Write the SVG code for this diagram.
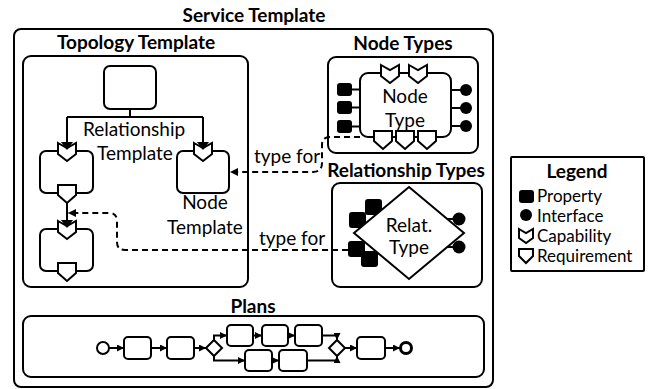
<svg xmlns="http://www.w3.org/2000/svg" xmlns:xlink="http://www.w3.org/1999/xlink" width="648" height="389" viewBox="0 0 648 389">
<style>
.box{fill:#fff;stroke:#000;stroke-width:2}
.ln{fill:none;stroke:#000;stroke-width:2}
.dash{fill:none;stroke:#000;stroke-width:2;stroke-dasharray:6 4}
.blk{fill:#000;stroke:none}
.sh{fill:#fff;stroke:#000;stroke-width:2;stroke-linejoin:miter}
.t{font-family:Lato,"Open Sans",sans-serif;font-size:19px;fill:#000;text-anchor:middle}
.tb{font-family:Lato,"Open Sans",sans-serif;font-size:19px;font-weight:bold;fill:#000;text-anchor:middle}
.tl{font-family:Lato,"Open Sans",sans-serif;font-size:17px;fill:#000;text-anchor:start}
</style>
<defs>
<polygon id="cap" class="sh" points="-9,0 0,5 9,0 9,11 0,18 -9,11"/>
<polygon id="req" class="sh" points="-9,0 9,0 9,10 0,18 -9,10"/>
<marker id="ah" viewBox="0 0 8 8" refX="8" refY="4" markerWidth="7" markerHeight="7" markerUnits="userSpaceOnUse" orient="auto">
<path d="M0,0 L8,4 L0,8 Z" fill="#000"/>
</marker>
<marker id="ad" viewBox="0 0 8 8" refX="8" refY="4" markerWidth="8" markerHeight="8" markerUnits="userSpaceOnUse" orient="auto">
<path d="M0,0 L8,4 L0,8 Z" fill="#000"/>
</marker>
</defs>

<g id="service-template">
<rect class="box" x="14" y="29" width="479" height="358" rx="7"/>
<text class="tb" x="254" y="22">Service Template</text>
</g>

<g id="topology-template">
<rect class="box" x="23" y="56" width="225" height="231" rx="8"/>
<text class="tb" x="136" y="49">Topology Template</text>
</g>

<g id="node-top">
<rect class="box" x="104" y="66" width="52" height="43" rx="6"/>
</g>

<g id="node-1">
<rect class="box" x="40" y="151" width="53" height="42" rx="6"/>
<use href="#cap" x="67" y="143"/>
<use href="#req" x="67" y="185"/>
</g>

<g id="node-2">
<rect class="box" x="40" y="229" width="53" height="42" rx="6"/>
<use href="#cap" x="67" y="221"/>
<use href="#req" x="67" y="263"/>
</g>

<g id="node-template">
<rect class="box" x="177" y="151" width="52" height="42" rx="6"/>
<use href="#cap" x="203" y="143"/>
<text class="t" x="205" y="209">Node</text>
<text class="t" x="205" y="234">Template</text>
</g>

<g id="relationship-template-label">
<text class="t" x="134" y="136">Relationship</text>
<text class="t" x="135" y="160">Template</text>
</g>

<g id="node-types">
<rect class="box" x="328" y="57" width="150" height="96" rx="8"/>
<text class="tb" x="403" y="50">Node Types</text>
<line class="ln" x1="350" y1="89.5" x2="360" y2="89.5"/>
<line class="ln" x1="350" y1="107.5" x2="360" y2="107.5"/>
<line class="ln" x1="350" y1="126.5" x2="360" y2="126.5"/>
<line class="ln" x1="451" y1="90" x2="462" y2="90"/>
<line class="ln" x1="451" y1="108" x2="462" y2="108"/>
<line class="ln" x1="451" y1="126" x2="462" y2="126"/>
<rect class="box" x="360" y="73" width="91" height="64" rx="8"/>
<rect class="blk" x="337" y="83" width="15" height="13" rx="3"/>
<rect class="blk" x="337" y="101" width="15" height="13" rx="3"/>
<rect class="blk" x="337" y="120" width="15" height="13" rx="3"/>
<circle class="blk" cx="466" cy="90" r="6"/>
<circle class="blk" cx="466" cy="108" r="6"/>
<circle class="blk" cx="466" cy="126" r="6"/>
<use href="#cap" x="390" y="65"/>
<use href="#cap" x="418" y="65"/>
<use href="#req" x="383" y="131"/>
<use href="#req" x="405" y="131"/>
<use href="#req" x="427" y="131"/>
<text class="t" x="405" y="103">Node</text>
<text class="t" x="405" y="127">Type</text>
</g>

<g id="relationship-types">
<rect class="box" x="332" y="183" width="150" height="104" rx="8"/>
<text class="tb" x="406" y="177">Relationship Types</text>
<rect class="blk" x="365" y="199" width="17" height="16" rx="3"/>
<rect class="blk" x="349" y="212" width="17" height="16" rx="3"/>
<rect class="blk" x="348" y="241" width="17" height="16" rx="3"/>
<rect class="blk" x="361" y="251" width="17" height="16" rx="3"/>
<line class="ln" x1="444" y1="219" x2="455" y2="219"/>
<line class="ln" x1="444" y1="247" x2="455" y2="247"/>
<circle class="blk" cx="459" cy="219" r="6.5"/>
<circle class="blk" cx="459" cy="247" r="6.5"/>
<polygon class="sh" points="409,187 464,233 409,279 354,233"/>
<text class="t" x="409" y="232">Relat.</text>
<text class="t" x="409" y="254">Type</text>
</g>

<g id="legend">
<rect class="box" x="511" y="157" width="133" height="114" rx="1"/>
<text class="tb" x="577" y="178">Legend</text>
<rect class="blk" x="519" y="190" width="15" height="13" rx="3"/>
<text class="tl" x="537" y="202">Property</text>
<circle class="blk" cx="526" cy="215" r="6"/>
<text class="tl" x="537" y="222">Interface</text>
<polygon class="sh" points="519,229 526,233 533,229 533,238 526,243 519,238"/>
<text class="tl" x="537" y="242">Capability</text>
<polygon class="sh" points="519,249 533,249 533,256 526,263 519,256"/>
<text class="tl" x="537" y="262">Requirement</text>
</g>

<g id="plans">
<rect class="box" x="23" y="316" width="461" height="61" rx="8"/>
<text class="tb" x="253" y="313">Plans</text>
<circle class="box" cx="103" cy="348" r="6"/>
<rect class="box" x="124" y="337" width="27" height="22" rx="4"/>
<rect class="box" x="167" y="337" width="27" height="22" rx="4"/>
<polygon class="box" points="214,340 222,348 214,356 206,348"/>
<rect class="box" x="227" y="325" width="26" height="21" rx="4"/>
<rect class="box" x="262" y="325" width="26" height="21" rx="4"/>
<rect class="box" x="295" y="325" width="27" height="21" rx="4"/>
<rect class="box" x="245" y="350" width="27" height="21" rx="4"/>
<rect class="box" x="279" y="350" width="28" height="21" rx="4"/>
<polygon class="box" points="337,340 345,348 337,356 329,348"/>
<rect class="box" x="357" y="337" width="28" height="22" rx="4"/>
<circle class="box" cx="406" cy="348" r="5.5" style="stroke-width:3"/>
</g>

<g id="connectors">
<path class="ln" d="M130,109 V117 M67,117 H203 M67,117 V143 M203,117 V143"/>
<polygon class="blk" points="61,142 73,142 67,150"/>
<polygon class="blk" points="197,142 209,142 203,150"/>
<line class="ln" x1="67" y1="203" x2="67" y2="221"/>
<polygon class="blk" points="61,220 73,220 67,228"/>
<path class="dash" d="M360,137 H330 Q322,137 322,145 V163 Q322,172 313,172 H230" marker-end="url(#ad)"/>
<text class="t" x="287" y="163">type for</text>
<path class="dash" d="M348,250 H125 Q117,250 117,242 V221 Q117,213 109,213 H68" marker-end="url(#ad)"/>
<text class="t" x="292" y="245">type for</text>
<path class="ln" d="M109,348 H124" marker-end="url(#ah)"/>
<path class="ln" d="M151,348 H167" marker-end="url(#ah)"/>
<path class="ln" d="M194,348 H206" marker-end="url(#ah)"/>
<path class="ln" d="M214,340 V335.5 H227" marker-end="url(#ah)"/>
<path class="ln" d="M253,335.5 H262" marker-end="url(#ah)"/>
<path class="ln" d="M288,335.5 H295" marker-end="url(#ah)"/>
<path class="ln" d="M214,356 V360.5 H245" marker-end="url(#ah)"/>
<path class="ln" d="M272,360.5 H279" marker-end="url(#ah)"/>
<path class="ln" d="M322,335.5 H337 V340" marker-end="url(#ah)"/>
<path class="ln" d="M307,360.5 H337 V356" marker-end="url(#ah)"/>
<path class="ln" d="M345,348 H357" marker-end="url(#ah)"/>
<path class="ln" d="M385,348 H400" marker-end="url(#ah)"/>
</g>
</svg>
